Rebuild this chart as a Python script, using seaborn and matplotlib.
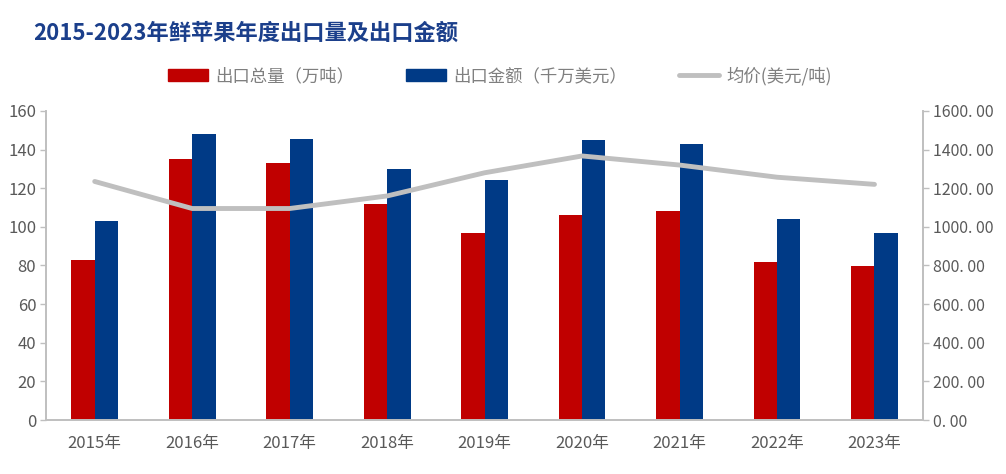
import numpy as np
import pandas as pd
import seaborn as sns
import matplotlib.pyplot as plt
from matplotlib.patches import Patch
from matplotlib.lines import Line2D
from matplotlib.ticker import FixedLocator

years = ['2015年', '2016年', '2017年', '2018年', '2019年', '2020年', '2021年', '2022年', '2023年']
volume = [83.0, 135.0, 133.0, 112.0, 97.0, 106.0, 108.0, 82.0, 79.5]       # 出口总量（万吨）
amount = [103.0, 148.2, 145.6, 130.0, 124.5, 145.0, 143.0, 104.2, 97.0]   # 出口金额（千万美元）
price = [1235, 1095, 1095, 1160, 1280, 1367, 1320, 1257, 1220]             # 均价(美元/吨)

names = ['出口总量（万吨）', '出口金额（千万美元）', '均价(美元/吨)']
red = '#C00000'
blue = '#003A86'
grey = '#BFBFBF'
txt = '#595959'

sns.set_theme(style='white')
plt.rcParams['font.family'] = ['Noto Sans CJK SC', 'DejaVu Sans']

df = pd.DataFrame({'year': years * 2,
                   'value': volume + amount,
                   'series': [names[0]] * len(years) + [names[1]] * len(years)})

fig = plt.figure(figsize=(10.06, 4.74), dpi=100)
ax = fig.add_axes([0.0457, 0.1139, 0.872, 0.652])

sns.barplot(data=df, x='year', y='value', hue='series', palette=[red, blue],
            width=0.48, gap=0, saturation=1, linewidth=0, ax=ax, legend=False)
ax.set_xlim(-0.5, len(years) - 0.5)
ax.set_ylim(0, 160)
ax.set_yticks(range(0, 161, 20))
ax.set_xlabel('')
ax.set_ylabel('')

ax2 = ax.twinx()
sns.lineplot(x=np.arange(len(years)), y=price, color=grey, lw=3.5, ax=ax2, legend=False)
ax2.set_ylim(0, 1600)
ax2.set_yticks(range(0, 1601, 200))
ax2.set_yticklabels(['{:.2f}'.format(v).replace('.', '. ') for v in range(0, 1601, 200)])
ax2.set_xlim(-0.5, len(years) - 0.5)

for a in (ax, ax2):
    for s in a.spines.values():
        s.set_color(grey)
    a.spines['top'].set_visible(False)
    a.tick_params(axis='y', colors=txt, length=4, width=1, color=grey, direction='out')
ax.tick_params(axis='y', labelsize=12, pad=3)
ax2.tick_params(axis='y', labelsize=11.5, pad=3)
ax.tick_params(axis='x', length=0, labelsize=12, colors=txt, pad=11)
ax.xaxis.set_minor_locator(FixedLocator(np.arange(-0.5, len(years), 1)))
ax.tick_params(axis='x', which='minor', length=5, color=grey, width=1, direction='out')

fig.text(0.033, 0.93, '2015-2023年鲜苹果年度出口量及出口金额', fontsize=16, fontweight='bold',
         color='#1B3F8B', va='center', ha='left')

handles = [Patch(color=red), Patch(color=blue), Line2D([], [], color=grey, lw=3.5)]
fig.legend(handles, names, loc='center', bbox_to_anchor=(0.497, 0.84), ncol=3, frameon=False,
           fontsize=12.5, labelcolor='#7F7F7F', handlelength=2.3, handleheight=0.7,
           columnspacing=3.0, handletextpad=0.4)

fig.savefig('out.png', dpi=100)
